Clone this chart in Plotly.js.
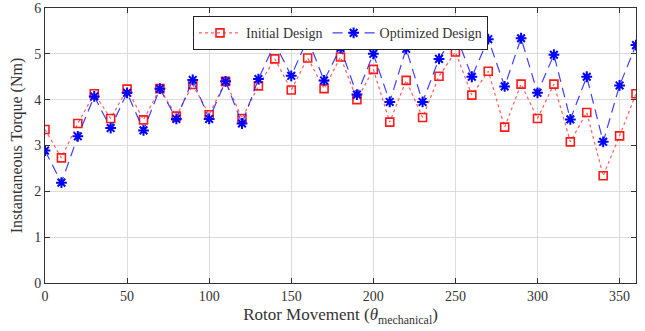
<!DOCTYPE html>
<html>
<head>
<meta charset="utf-8">
<script src="https://cdn.plot.ly/plotly-3.0.1.min.js"></script>
<style>
  html, body { margin: 0; padding: 0; background: #fff; }
  #chart { width: 645px; height: 331px; }
</style>
</head>
<body>
<div id="chart"></div>
<script>
// Rotor angle (mechanical degrees)
const angles = [0, 10, 20, 30, 40, 50, 60, 70, 80, 90, 100, 110, 120, 130, 140, 150, 160, 170, 180,
  190, 200, 210, 220, 230, 240, 250, 260, 270, 280, 290, 300, 310, 320, 330, 340, 350, 360];

// Instantaneous torque (Nm)
const initialDesign = [3.35, 2.73, 3.48, 4.13, 3.59, 4.23, 3.56, 4.24, 3.64, 4.33, 3.67, 4.40, 3.59,
  4.30, 4.89, 4.21, 4.91, 4.24, 4.93, 4.00, 4.66, 3.51, 4.42, 3.61, 4.51, 5.04, 4.10, 4.62, 3.40,
  4.34, 3.59, 4.34, 3.08, 3.72, 2.34, 3.21, 4.13];

const optimizedDesign = [2.89, 2.19, 3.20, 4.07, 3.38, 4.15, 3.33, 4.24, 3.58, 4.43, 3.58, 4.40, 3.48,
  4.45, 5.23, 4.52, 5.33, 4.42, 5.13, 4.11, 5.00, 3.95, 5.11, 3.95, 4.89, 5.45, 4.50, 5.32, 4.29,
  5.34, 4.15, 4.98, 3.57, 4.50, 3.08, 4.31, 5.19];

const seriesNames = ['Initial Design', 'Optimized Design'];

const serif = 'Liberation Serif, Times New Roman, serif';

const traces = [
  {
    x: angles, y: initialDesign, name: seriesNames[0],
    type: 'scatter', mode: 'lines+markers',
    line: { color: 'rgba(255,40,40,0.75)', width: 1.2, dash: 'dot' },
    marker: { symbol: 'square-open', size: 8, color: '#ff1a1a', line: { width: 1.6, color: '#ff1a1a' } }
  },
  {
    x: angles, y: optimizedDesign, name: seriesNames[1],
    type: 'scatter', mode: 'lines+markers',
    line: { color: 'rgba(30,30,255,0.85)', width: 1.2, dash: '10px,6px' },
    marker: { symbol: 'asterisk-open', size: 9, color: '#0000ff', line: { width: 2, color: '#0000ff' } }
  }
];

const axisCommon = {
  showline: true, linecolor: '#333', linewidth: 1,
  mirror: 'ticks', ticks: 'inside', ticklen: 5, tickcolor: '#333',
  showgrid: true, gridcolor: '#dcdcdc', gridwidth: 1,
  zeroline: false,
  tickfont: { family: serif, size: 14, color: '#333' }
};

const layout = {
  width: 645, height: 331,
  margin: { l: 45, r: 9, t: 8, b: 48 },
  paper_bgcolor: '#fff', plot_bgcolor: '#fff',
  font: { family: serif, color: '#333' },
  showlegend: true,
  legend: {
    orientation: 'h', x: 0.5, xanchor: 'center', y: 0.97, yanchor: 'top',
    bgcolor: '#fff', bordercolor: '#222', borderwidth: 1,
    font: { family: serif, size: 14, color: '#333' },
    itemwidth: 42, tracegroupgap: 0
  },
  xaxis: Object.assign({}, axisCommon, {
    range: [0, 360], tick0: 0, dtick: 50,
    title: { text: 'Rotor Movement (<i>θ</i><sub>mechanical</sub>)', font: { family: serif, size: 17, color: '#333' }, standoff: 5 }
  }),
  yaxis: Object.assign({}, axisCommon, {
    range: [0, 6], tick0: 0, dtick: 1,
    title: { text: 'Instantaneous Torque (Nm)', font: { family: serif, size: 16, color: '#333' }, standoff: 7 }
  })
};

Plotly.newPlot('chart', traces, layout, { displayModeBar: false, staticPlot: true });
</script>
</body>
</html>
